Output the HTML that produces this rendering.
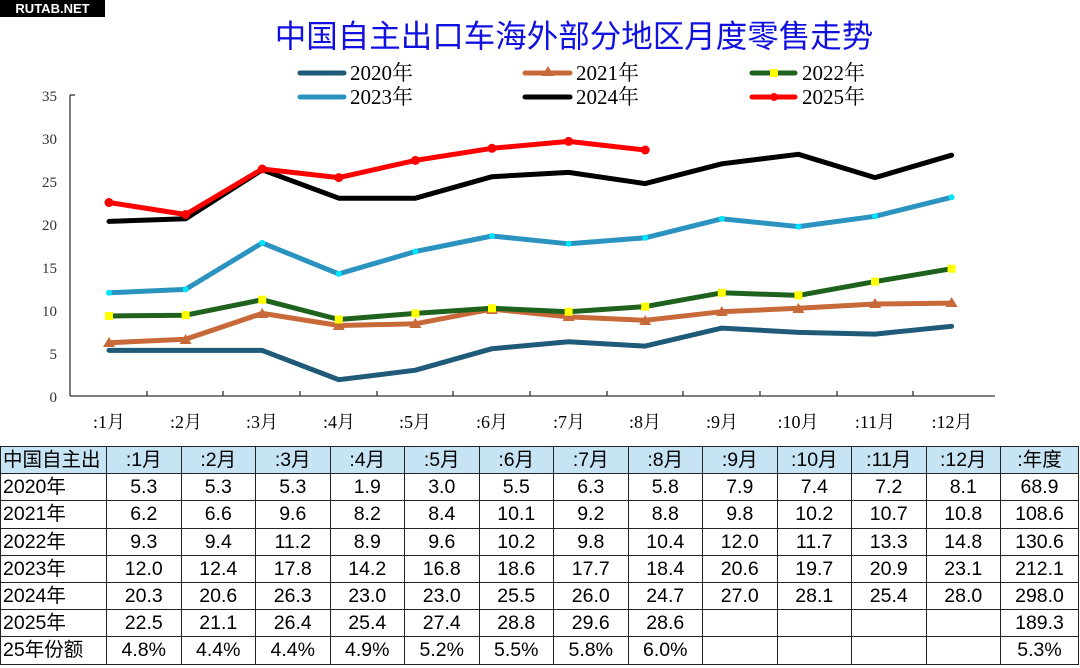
<!DOCTYPE html>
<html><head><meta charset="utf-8"><style>
body{margin:0;width:1080px;height:668px;background:#fff;overflow:hidden;position:relative;font-family:"Liberation Sans","Noto Sans CJK SC",sans-serif}
.logo{position:absolute;left:0;top:0;width:105px;height:17px;background:#000;color:#fff;font-weight:bold;font-size:13px;line-height:17px;text-align:center}
table{position:absolute;left:0;top:446px;border-collapse:collapse;table-layout:fixed}
td{border:1.5px solid #222;height:26.2px;padding:0;text-align:center;font-size:19.5px;color:#000;font-family:"Liberation Sans","Noto Sans CJK SC",sans-serif;line-height:24px}
td.l{text-align:left;padding-left:2px}
tr.h td{background:#c6e4f3}
</style></head><body>
<div class="logo">RUTAB.NET</div>
<svg width="1080" height="446" style="position:absolute;left:0;top:0" font-family="'Liberation Serif','Noto Serif CJK SC',serif">
<text x="574" y="47" text-anchor="middle" font-size="31.5" fill="#1010e0" font-family="'Liberation Sans','Noto Sans CJK SC',sans-serif">中国自主出口车海外部分地区月度零售走势</text>
<g stroke-width="5" stroke-linecap="round">
<line x1="300" y1="73" x2="344" y2="73" stroke="#1f5a78"/>
<line x1="300" y1="97" x2="344" y2="97" stroke="#2b93c0"/>
<line x1="525" y1="73" x2="570" y2="73" stroke="#c8693a"/>
<line x1="525" y1="97" x2="570" y2="97" stroke="#000"/>
<line x1="752" y1="73" x2="795" y2="73" stroke="#1e621e"/>
<line x1="752" y1="97" x2="795" y2="97" stroke="#ff0000"/>
</g>
<polygon points="548,66 554,76 542,76" fill="#c8693a"/>
<rect x="770" y="69" width="8" height="8" fill="#ffff00"/>
<circle cx="774" cy="97" r="4" fill="#ff0000"/>
<g font-size="21" fill="#000">
<text x="350" y="80">2020年</text><text x="350" y="104">2023年</text>
<text x="576" y="80">2021年</text><text x="576" y="104">2024年</text>
<text x="802" y="80">2022年</text><text x="802" y="104">2025年</text>
</g>
<g font-size="15" fill="#333" text-anchor="end">
<text x="57" y="101">35</text><text x="57" y="144">30</text><text x="57" y="187">25</text><text x="57" y="230">20</text><text x="57" y="273">15</text><text x="57" y="316">10</text><text x="57" y="359">5</text><text x="57" y="402">0</text>
</g>
<g stroke="#333" stroke-width="1.3" fill="none">
<line x1="70" y1="95" x2="70" y2="396"/>
<line x1="70" y1="396" x2="995" y2="396"/>
<line x1="70" y1="95" x2="75" y2="95"/>
<line x1="147" y1="396" x2="147" y2="391"/><line x1="223" y1="396" x2="223" y2="391"/><line x1="300" y1="396" x2="300" y2="391"/><line x1="377" y1="396" x2="377" y2="391"/><line x1="453" y1="396" x2="453" y2="391"/><line x1="530" y1="396" x2="530" y2="391"/><line x1="607" y1="396" x2="607" y2="391"/><line x1="683" y1="396" x2="683" y2="391"/><line x1="760" y1="396" x2="760" y2="391"/><line x1="837" y1="396" x2="837" y2="391"/><line x1="913" y1="396" x2="913" y2="391"/>
</g>
<g font-size="18" fill="#000" text-anchor="middle">
<text x="109" y="428">:1月</text><text x="186" y="428">:2月</text><text x="262" y="428">:3月</text><text x="339" y="428">:4月</text><text x="415" y="428">:5月</text><text x="492" y="428">:6月</text><text x="569" y="428">:7月</text><text x="645" y="428">:8月</text><text x="722" y="428">:9月</text><text x="798" y="428">:10月</text><text x="875" y="428">:11月</text><text x="952" y="428">:12月</text>
</g>
<g fill="none" stroke-width="5" stroke-linejoin="round" stroke-linecap="round">
<polyline stroke="#1f5a78" points="109,350.4 185.6,350.4 262.2,350.4 338.8,379.7 415.4,370.2 492,348.7 568.6,341.8 645.2,346.1 721.8,328.1 798.4,332.4 875,334.1 951.6,326.3"/>
<polyline stroke="#c8693a" points="109,342.7 185.6,339.2 262.2,313.4 338.8,325.5 415.4,323.8 492,309.1 568.6,316.9 645.2,320.3 721.8,311.7 798.4,308.3 875,304 951.6,303.1"/>
<polyline stroke="#1e621e" points="109,316 185.6,315.2 262.2,299.7 338.8,319.5 415.4,313.4 492,308.3 568.6,311.7 645.2,306.6 721.8,292.8 798.4,295.4 875,281.6 951.6,268.7"/>
<polyline stroke="#2b93c0" points="109,292.8 185.6,289.4 262.2,242.9 338.8,273.9 415.4,251.5 492,236 568.6,243.8 645.2,237.8 721.8,218.8 798.4,226.6 875,216.3 951.6,197.3"/>
<polyline stroke="#000" points="109,221.4 185.6,218.8 262.2,169.8 338.8,198.2 415.4,198.2 492,176.7 568.6,172.4 645.2,183.6 721.8,163.8 798.4,154.3 875,177.6 951.6,155.2"/>
<polyline stroke="#ff0000" points="109,202.5 185.6,214.5 262.2,169 338.8,177.6 415.4,160.4 492,148.3 568.6,141.4 645.2,150"/>
</g>
<g fill="#c8693a">
<polygon points="109,337 115,347 103,347"/><polygon points="185.6,334 191.6,344 179.6,344"/><polygon points="262.2,308 268.2,318 256.2,318"/><polygon points="338.8,320 344.8,330 332.8,330"/><polygon points="415.4,318 421.4,328 409.4,328"/><polygon points="492,304 498,314 486,314"/><polygon points="568.6,311 574.6,321 562.6,321"/><polygon points="645.2,315 651.2,325 639.2,325"/><polygon points="721.8,306 727.8,316 715.8,316"/><polygon points="798.4,303 804.4,313 792.4,313"/><polygon points="875,298 881,308 869,308"/><polygon points="951.6,297 957.6,307 945.6,307"/>
</g>
<g fill="#ffff00">
<rect x="105" y="312" width="8" height="8"/><rect x="181.6" y="311.2" width="8" height="8"/><rect x="258.2" y="295.7" width="8" height="8"/><rect x="334.8" y="315.5" width="8" height="8"/><rect x="411.4" y="309.4" width="8" height="8"/><rect x="488" y="304.3" width="8" height="8"/><rect x="564.6" y="307.7" width="8" height="8"/><rect x="641.2" y="302.6" width="8" height="8"/><rect x="717.8" y="288.8" width="8" height="8"/><rect x="794.4" y="291.4" width="8" height="8"/><rect x="871" y="277.6" width="8" height="8"/><rect x="947.6" y="264.7" width="8" height="8"/>
</g>
<g fill="#00e5ff">
<circle cx="109" cy="292.8" r="3"/><circle cx="185.6" cy="289.4" r="3"/><circle cx="262.2" cy="242.9" r="3"/><circle cx="338.8" cy="273.9" r="3"/><circle cx="415.4" cy="251.5" r="3"/><circle cx="492" cy="236" r="3"/><circle cx="568.6" cy="243.8" r="3"/><circle cx="645.2" cy="237.8" r="3"/><circle cx="721.8" cy="218.8" r="3"/><circle cx="798.4" cy="226.6" r="3"/><circle cx="875" cy="216.3" r="3"/><circle cx="951.6" cy="197.3" r="3"/>
</g>
<g fill="#ff0000">
<circle cx="109" cy="202.5" r="4.5"/><circle cx="185.6" cy="214.5" r="4.5"/><circle cx="262.2" cy="169" r="4.5"/><circle cx="338.8" cy="177.6" r="4.5"/><circle cx="415.4" cy="160.4" r="4.5"/><circle cx="492" cy="148.3" r="4.5"/><circle cx="568.6" cy="141.4" r="4.5"/><circle cx="645.2" cy="150" r="4.5"/>
</g>
</svg>
<table>
<colgroup><col style="width:106px"><col span="12" style="width:74.5px"><col style="width:78px"></colgroup>
<tr class="h"><td class="l">中国自主出</td><td>:1月</td><td>:2月</td><td>:3月</td><td>:4月</td><td>:5月</td><td>:6月</td><td>:7月</td><td>:8月</td><td>:9月</td><td>:10月</td><td>:11月</td><td>:12月</td><td>:年度</td></tr>
<tr><td class="l">2020年</td><td>5.3</td><td>5.3</td><td>5.3</td><td>1.9</td><td>3.0</td><td>5.5</td><td>6.3</td><td>5.8</td><td>7.9</td><td>7.4</td><td>7.2</td><td>8.1</td><td>68.9</td></tr>
<tr><td class="l">2021年</td><td>6.2</td><td>6.6</td><td>9.6</td><td>8.2</td><td>8.4</td><td>10.1</td><td>9.2</td><td>8.8</td><td>9.8</td><td>10.2</td><td>10.7</td><td>10.8</td><td>108.6</td></tr>
<tr><td class="l">2022年</td><td>9.3</td><td>9.4</td><td>11.2</td><td>8.9</td><td>9.6</td><td>10.2</td><td>9.8</td><td>10.4</td><td>12.0</td><td>11.7</td><td>13.3</td><td>14.8</td><td>130.6</td></tr>
<tr><td class="l">2023年</td><td>12.0</td><td>12.4</td><td>17.8</td><td>14.2</td><td>16.8</td><td>18.6</td><td>17.7</td><td>18.4</td><td>20.6</td><td>19.7</td><td>20.9</td><td>23.1</td><td>212.1</td></tr>
<tr><td class="l">2024年</td><td>20.3</td><td>20.6</td><td>26.3</td><td>23.0</td><td>23.0</td><td>25.5</td><td>26.0</td><td>24.7</td><td>27.0</td><td>28.1</td><td>25.4</td><td>28.0</td><td>298.0</td></tr>
<tr><td class="l">2025年</td><td>22.5</td><td>21.1</td><td>26.4</td><td>25.4</td><td>27.4</td><td>28.8</td><td>29.6</td><td>28.6</td><td></td><td></td><td></td><td></td><td>189.3</td></tr>
<tr><td class="l">25年份额</td><td>4.8%</td><td>4.4%</td><td>4.4%</td><td>4.9%</td><td>5.2%</td><td>5.5%</td><td>5.8%</td><td>6.0%</td><td></td><td></td><td></td><td></td><td>5.3%</td></tr>
</table>
</body></html>
